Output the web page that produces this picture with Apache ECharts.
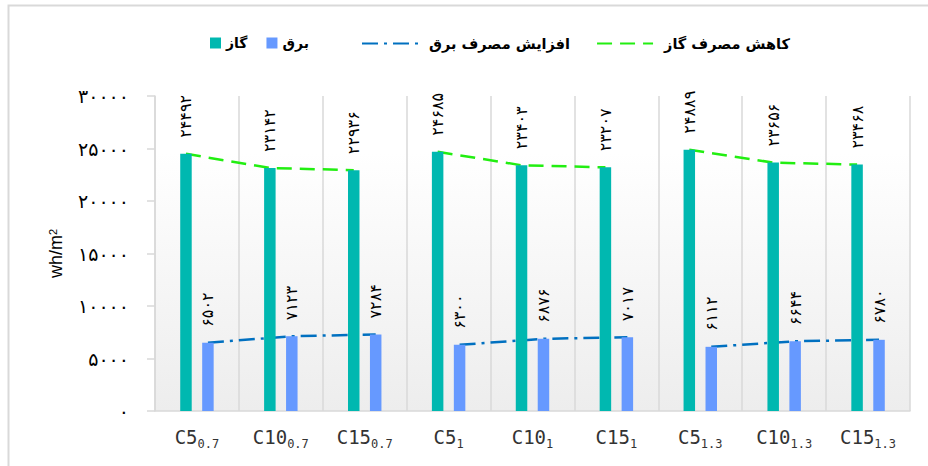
<!DOCTYPE html>
<html>
<head>
<meta charset="utf-8">
<script src="https://cdn.jsdelivr.net/npm/echarts@6/dist/echarts.min.js"></script>
<style>html,body{margin:0;padding:0;background:#fff;}#c{width:928px;height:466px;}</style>
</head>
<body>
<div id="c"></div>
<script>
const catMain = ['C5','C10','C15','C5','C10','C15','C5','C10','C15'];
const catSub  = ['0.7','0.7','0.7','1','1','1','1.3','1.3','1.3'];
const gasValues  = [24492, 23142, 22936, 24685, 23403, 23207, 24889, 23656, 23468];
const elecValues = [6502, 7123, 7284, 6300, 6876, 7017, 6112, 6644, 6780];
const yTicks = [0, 5000, 10000, 15000, 20000, 25000, 30000];
const groups = [[0,1,2],[3,4,5],[6,7,8]];
const nameGas = 'گاز';
const nameElec = 'برق';
const nameGasLine = 'کاهش مصرف گاز';
const nameElecLine = 'افزایش مصرف برق';

const categories = catMain.map((m, i) => m + '|' + catSub[i]);
const fa = n => String(n).replace(/\d/g, d => '۰۱۲۳۴۵۶۷۸۹'[d]);

const barWidthFrac = 0.137;
const barGapFrac = 0.91;
const off = barWidthFrac * (1 + barGapFrac) / 2;

const gasColor = '#00b8b0', elecColor = '#6699ff';
const gasLineColor = '#22ee11', elecLineColor = '#0070c0';
const gasDash = [15, 8], elecDash = [16, 6, 3, 6];

const chart = echarts.init(document.getElementById('c'), null, {renderer: 'svg'});

const lineSeries = [];
groups.forEach(g => {
  lineSeries.push({
    name: nameGasLine, type: 'line', xAxisIndex: 1, yAxisIndex: 0,
    symbol: 'none', z: 1, silent: true,
    lineStyle: {color: gasLineColor, width: 2.5, type: gasDash},
    itemStyle: {color: gasLineColor},
    data: g.map(i => [i + 0.5 - off, gasValues[i]])
  });
  lineSeries.push({
    name: nameElecLine, type: 'line', xAxisIndex: 1, yAxisIndex: 0,
    symbol: 'none', z: 1, silent: true,
    lineStyle: {color: elecLineColor, width: 2.5, type: elecDash},
    itemStyle: {color: elecLineColor},
    data: g.map(i => [i + 0.5 + off, elecValues[i]])
  });
});

const barLabel = {
  show: true, position: 'top', rotate: 90, align: 'left', verticalAlign: 'middle',
  distance: 16, fontFamily: 'DejaVu Sans', fontSize: 16, color: '#000',
  formatter: p => fa(p.value)
};

chart.setOption({
  animation: false,
  backgroundColor: '#fff',
  graphic: [{
    type: 'rect', z: -100, silent: true,
    shape: {x: 8.5, y: 5.5, width: 960, height: 500},
    style: {fill: 'none', stroke: '#d9d9d9', lineWidth: 2}
  }],
  legend: [{
    data: [nameGas, nameElec],
    left: 205, top: 31,
    itemWidth: 11, itemHeight: 11, itemGap: 19,
    icon: 'rect',
    textStyle: {fontFamily: 'DejaVu Sans', fontSize: 14, fontWeight: 'bold', color: '#000'}
  }, {
    data: [nameElecLine, nameGasLine],
    left: 356, top: 31,
    itemWidth: 56, itemHeight: 11, itemGap: 26,
    itemStyle: {opacity: 0},
    textStyle: {fontFamily: 'DejaVu Sans', fontSize: 14.5, fontWeight: 'bold', color: '#000', padding: [0, 0, 0, 6]}
  }],
  grid: {
    left: 155, right: 18, top: 96, bottom: 55,
    show: true, borderWidth: 0,
    backgroundColor: new echarts.graphic.LinearGradient(0, 0, 0, 1, [
      {offset: 0, color: '#ffffff'},
      {offset: 0.18, color: '#ffffff'},
      {offset: 1, color: '#ededed'}
    ])
  },
  xAxis: [{
    type: 'category', data: categories, boundaryGap: true,
    axisLine: {show: true, lineStyle: {color: '#d9d9d9', width: 1.5}},
    axisTick: {show: false},
    splitLine: {show: true, interval: 0, lineStyle: {color: '#d9d9d9', width: 1.5}},
    axisLabel: {
      interval: 0, margin: 16,
      formatter: v => { const [a, b] = v.split('|'); return '{a|' + a + '}{b|' + b + '}'; },
      rich: {
        a: {fontFamily: 'DejaVu Sans Mono', fontSize: 19, color: '#333', lineHeight: 22, verticalAlign: 'top'},
        b: {fontFamily: 'DejaVu Sans Mono', fontSize: 12, color: '#333', verticalAlign: 'top', lineHeight: 12, padding: [11, 0, 0, 0]}
      }
    }
  }, {
    type: 'value', min: 0, max: categories.length, show: false
  }],
  yAxis: [{
    type: 'value', min: yTicks[0], max: yTicks[yTicks.length - 1], interval: yTicks[1] - yTicks[0],
    axisLine: {show: true, lineStyle: {color: '#d9d9d9', width: 1.5}},
    axisTick: {show: true, length: 8, lineStyle: {color: '#d9d9d9', width: 1.5}},
    splitLine: {show: false},
    axisLabel: {margin: 26, fontFamily: 'DejaVu Sans', fontSize: 19, color: '#000', formatter: v => fa(v)},
    name: '{a|wh/m}{b|2}',
    nameLocation: 'middle', nameGap: 90, nameRotate: 90,
    nameTextStyle: {
      rich: {
        a: {fontFamily: 'Liberation Sans', fontSize: 18, color: '#000'},
        b: {fontFamily: 'Liberation Sans', fontSize: 11, color: '#000', verticalAlign: 'top', lineHeight: 10}
      }
    }
  }],
  series: [{
    name: nameGas, type: 'bar', data: gasValues, z: 2,
    barWidth: (barWidthFrac * 100) + '%', barGap: (barGapFrac * 100) + '%',
    itemStyle: {color: gasColor},
    label: barLabel
  }, {
    name: nameElec, type: 'bar', data: elecValues, z: 2,
    barWidth: (barWidthFrac * 100) + '%', barGap: (barGapFrac * 100) + '%',
    itemStyle: {color: elecColor},
    label: barLabel
  }].concat(lineSeries)
});
</script>
</body>
</html>
